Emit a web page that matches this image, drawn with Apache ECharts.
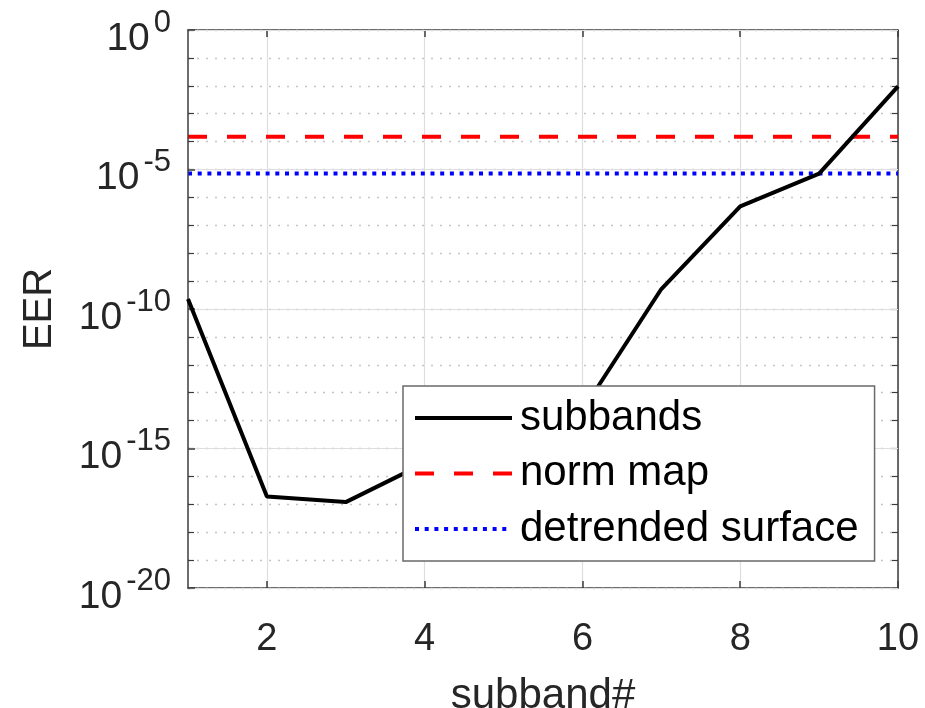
<!DOCTYPE html>
<html>
<head>
<meta charset="utf-8">
<script src="https://cdn.jsdelivr.net/npm/echarts@6/dist/echarts.min.js"></script>
<style>
html, body { margin: 0; padding: 0; background: #fff; }
#eerChart { width: 925px; height: 708px; }
</style>
</head>
<body>
<div id="eerChart"></div>
<script>
// EER per subband (log scale), plus two reference levels
const subbandNo = [1, 2, 3, 4, 5, 6, 7, 8, 9, 10];
const subbandEER = [2.3e-10, 1.9e-17, 1.2e-17, 3e-16, 2.5e-15, 2.3e-14, 5.2e-10, 4.8e-7, 7.1e-6, 9.5e-3];
const normMapEER = 1.5e-4;
const detrendedEER = 7.2e-6;
const xTicks = [2, 4, 6, 8, 10];
const names = ['subbands', 'norm map', 'detrended surface'];

const FONT = 'Liberation Sans, Arial, sans-serif';
const AXIS_COLOR = '#3c3c3c';
const TEXT_COLOR = '#262626';

let chart = echarts.init(document.getElementById('eerChart'));

const xFirst = subbandNo[0];
const xLast = subbandNo[subbandNo.length - 1];

function supLabel(v) {
    let e = Math.round(Math.log10(v));
    return '{b|10}{s|' + e + '}';
}

let logBase = {
    type: 'log',
    logBase: 10,
    min: 1e-20,
    max: 1,
    gridIndex: 0
};

let option = {
    animation: false,
    backgroundColor: '#fff',
    grid: { left: 188, top: 30, width: 710, height: 558, containLabel: false, outerBoundsMode: 'none' },
    xAxis: [
        {
            type: 'value',
            min: xFirst,
            max: xLast,
            name: 'subband#',
            nameLocation: 'middle',
            nameGap: 87,
            nameTextStyle: { fontFamily: FONT, fontSize: 42, color: TEXT_COLOR },
            axisLine: { show: true, lineStyle: { color: AXIS_COLOR, width: 1.5 } },
            axisTick: { show: true, inside: true, length: 7, customValues: xTicks, lineStyle: { color: AXIS_COLOR, width: 1.5 } },
            axisLabel: { customValues: xTicks, margin: 33, fontFamily: FONT, fontSize: 38, color: TEXT_COLOR, hideOverlap: false },
            splitLine: { show: true, customValues: xTicks, lineStyle: { color: '#dedede', width: 1.2 } }
        },
        {
            type: 'value',
            position: 'top',
            min: xFirst,
            max: xLast,
            axisLine: { show: true, lineStyle: { color: AXIS_COLOR, width: 1.5 } },
            axisTick: { show: true, inside: true, length: 7, customValues: xTicks, lineStyle: { color: AXIS_COLOR, width: 1.5 } },
            axisLabel: { show: false },
            splitLine: { show: false }
        }
    ],
    yAxis: [
        Object.assign({}, logBase, {
            interval: 5,
            name: 'EER',
            nameLocation: 'middle',
            nameGap: 128,
            nameRotate: 90,
            nameTextStyle: { fontFamily: FONT, fontSize: 40, color: TEXT_COLOR },
            axisLine: { show: true, lineStyle: { color: AXIS_COLOR, width: 1.5 } },
            axisTick: { show: true, inside: true, length: 7, lineStyle: { color: AXIS_COLOR, width: 1.5 } },
            axisLabel: {
                margin: 17,
                formatter: supLabel,
                rich: {
                    b: { fontFamily: FONT, fontSize: 39, color: TEXT_COLOR, padding: [18, 0, 0, 0] },
                    s: { fontFamily: FONT, fontSize: 31, color: TEXT_COLOR, padding: [0, 0, 14, 4] }
                }
            },
            splitLine: { show: true, lineStyle: { color: '#dedede', width: 1.2 } },
            z: 3
        }),
        Object.assign({}, logBase, {
            interval: 1,
            position: 'left',
            axisLine: { show: false },
            axisTick: { show: true, inside: true, length: 6, lineStyle: { color: AXIS_COLOR, width: 1.2 } },
            axisLabel: { show: false },
            splitLine: { show: true, lineStyle: { color: '#c4c4c4', width: 1.4, type: [2, 7] } },
            z: 1
        }),
        Object.assign({}, logBase, {
            interval: 1,
            position: 'right',
            axisLine: { show: true, lineStyle: { color: AXIS_COLOR, width: 1.5 } },
            axisTick: { show: true, inside: true, length: 6, lineStyle: { color: AXIS_COLOR, width: 1.2 } },
            axisLabel: { show: false },
            splitLine: { show: false }
        })
    ],
    legend: {
        orient: 'vertical',
        left: 403,
        top: 386,
        itemWidth: 97,
        itemHeight: 1,
        itemGap: 9.5,
        padding: [9, 16, 9, 10],
        backgroundColor: '#fff',
        borderColor: '#6a6a6a',
        borderWidth: 1.5,
        borderRadius: 0,
        z: 10,
        data: names,
        lineStyle: { width: 4 },
        textStyle: { fontFamily: FONT, fontSize: 42, color: '#000', lineHeight: 46, padding: [0, 0, 0, 3] }
    },
    series: [
        {
            name: names[0],
            type: 'line',
            data: subbandNo.map((x, i) => [x, subbandEER[i]]),
            showSymbol: false,
            symbol: 'none',
            lineStyle: { color: '#000', width: 4 },
            itemStyle: { color: '#000' },
            z: 3
        },
        {
            name: names[1],
            type: 'line',
            data: [[xFirst, normMapEER], [xLast, normMapEER]],
            showSymbol: false,
            symbol: 'none',
            lineStyle: { color: '#ff0000', width: 4, type: [19, 20] },
            itemStyle: { color: '#ff0000' },
            z: 2
        },
        {
            name: names[2],
            type: 'line',
            data: [[xFirst, detrendedEER], [xLast, detrendedEER]],
            showSymbol: false,
            symbol: 'none',
            lineStyle: { color: '#0000ff', width: 4, type: [4, 5.7] },
            itemStyle: { color: '#0000ff' },
            z: 2
        }
    ]
};

chart.setOption(option);
</script>
</body>
</html>
